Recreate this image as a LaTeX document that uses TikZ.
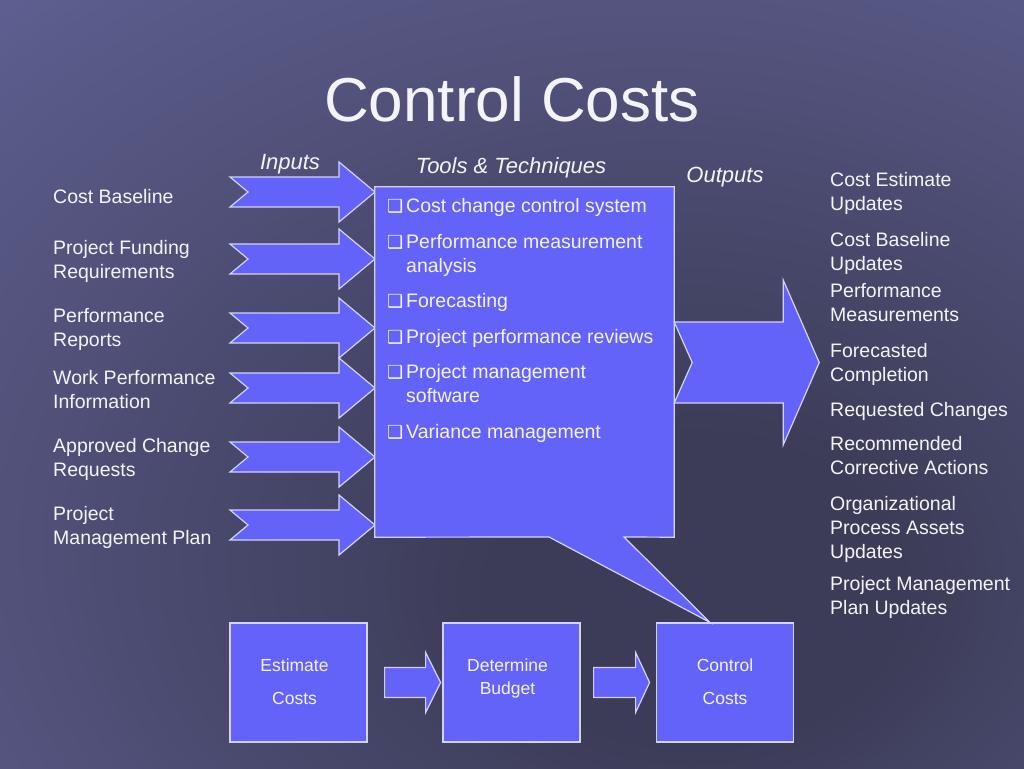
\documentclass[tikz,border=0pt]{standalone}
\usepackage{fontspec}
\setmainfont{Liberation Sans}
\newfontfamily\symfont{DejaVu Sans}
\usetikzlibrary{calc}
\definecolor{bgin}{HTML}{3C3C58}
\definecolor{bgout}{HTML}{6868A0}
\definecolor{boxfill}{HTML}{6363FA}
\definecolor{boxline}{HTML}{D2D2FA}
\definecolor{txt}{HTML}{F4F4F8}
\pgfdeclareradialshading{slidebg}{\pgfpoint{10bp}{-15bp}}{color(0bp)=(bgin); color(10bp)=(bgin); color(55bp)=(bgout); color(100bp)=(bgout)}
\tikzset{
  fatarrow/.style={fill=boxfill, draw=boxline, line width=1.2pt, line join=miter},
  lbl/.style={text=txt, font=\fontsize{19.5}{24}\selectfont, anchor=north west, align=left, inner sep=0pt},
  hdr/.style={text=txt, font=\fontsize{22}{26}\selectfont\itshape, anchor=base, inner sep=0pt},
  procbox/.style={fill=boxfill, draw=boxline, line width=1.2pt, minimum width=137pt, minimum height=119pt, inner sep=0pt},
  proctext/.style={text=txt, font=\fontsize{17.5}{23}\selectfont, align=center, inner sep=0pt},
  inarrow/.pic={\filldraw[fatarrow] (0,-15) -- (109,-15) -- (109,-30) -- (145,0) -- (109,30) -- (109,15) -- (0,15) -- (18,0) -- cycle;},
}
\newcommand{\tick}{\makebox[20pt][l]{\hspace{1pt}\symfont\fontsize{18}{18}\selectfont ❑}}
\newcommand{\notick}{\makebox[20pt][l]{}}
\begin{document}
\begin{tikzpicture}[x=1pt,y=-1pt]
\useasboundingbox (0,0) rectangle (1024,768);
\shade[shading=slidebg] (0,0) rectangle (1024,768);

% title
\node[text=txt, font=\fontsize{62}{70}\selectfont, anchor=base, inner sep=0pt] (title) at (512,121) {Control Costs};

% headers
\node[hdr] (hin) at (290,169) {Inputs};
\node[hdr] (htt) at (511,173) {Tools \& Techniques};
\node[hdr] (hout) at (725,182) {Outputs};

% input arrows
\foreach \yy in {192,259,328,388,457,525} {
  \pic at (230,\yy) {inarrow};
}

% tools box with callout tail
\node[minimum width=299pt, minimum height=350pt, inner sep=0pt] (tools) at (524.5,362) {};
\coordinate (tailL) at (549,537);
\coordinate (tailR) at (624,537);

% bottom process boxes
\node[procbox] (est) at (298.5,682.5) {};
\node[procbox] (det) at (511.5,682.5) {};
\node[procbox] (ctl) at (725,682.5) {};
\node[proctext, anchor=north] (estt) at ($(est.north |- 0,659)+(-4,0)$) {Estimate\\[10pt]Costs};
\node[proctext, anchor=north] (dett) at ($(det.north |- 0,659)+(-4,0)$) {Determine\\Budget};
\node[proctext, anchor=north] (ctlt) at (ctl.north |- 0,659) {Control\\[10pt]Costs};
\coordinate (tip) at ($(ctl.north)+(-15,0)$);

\filldraw[fatarrow] (tools.north west) -- (tools.north east) -- (tools.south east) -- (tailR) -- (tip) -- (tailL) -- (tools.south west) -- cycle;

% tool items
\node[lbl] (items) at (386,198.5) {\tick Cost change control system\\[11.5pt]
\tick Performance measurement\\
\notick analysis\\[11.5pt]
\tick Forecasting\\[11.5pt]
\tick Project performance reviews\\[11.5pt]
\tick Project management\\
\notick software\\[11.5pt]
\tick Variance management};

% output arrow
\coordinate (oa) at (tools.east |- 0,362.5);
\filldraw[fatarrow] (oa) ++(0,-40.5) -- ++(109,0) -- ++(0,-42) -- ++(36,82.5) -- ++(-36,82.5) -- ++(0,-42) -- ++(-109,0) -- ++(18,-40.5) -- cycle;

% bottom arrows
\filldraw[fatarrow] ($(est.east)+(17,-15)$) -- ++(41,0) -- ++(0,-15) -- ++(15,30) -- ++(-15,30) -- ++(0,-15) -- ++(-41,0) -- cycle;
\filldraw[fatarrow] ($(det.east)+(13,-15)$) -- ++(42,0) -- ++(0,-15) -- ++(14,30) -- ++(-14,30) -- ++(0,-15) -- ++(-42,0) -- cycle;

% input labels
\node[lbl] (i1) at (53,189.5) {Cost Baseline};
\node[lbl] (i2) at (53,240.5) {Project Funding\\Requirements};
\node[lbl] (i3) at (53,308.5) {Performance\\Reports};
\node[lbl] (i4) at (53,370.5) {Work Performance\\Information};
\node[lbl] (i5) at (53,438.5) {Approved Change\\Requests};
\node[lbl] (i6) at (53,506.5) {Project\\Management Plan};

% output labels
\node[lbl] (o1) at (830,172.5) {Cost Estimate\\Updates};
\node[lbl] (o2) at (830,232.5) {Cost Baseline\\Updates};
\node[lbl] (o3) at (830,283.5) {Performance\\Measurements};
\node[lbl] (o4) at (830,343.5) {Forecasted\\Completion};
\node[lbl] (o5) at (830,402.5) {Requested Changes};
\node[lbl] (o6) at (830,436.5) {Recommended\\Corrective Actions};
\node[lbl] (o7) at (830,496.5) {Organizational\\Process Assets\\Updates};
\node[lbl] (o8) at (830,576.5) {Project Management\\Plan Updates};
\end{tikzpicture}
\end{document}
